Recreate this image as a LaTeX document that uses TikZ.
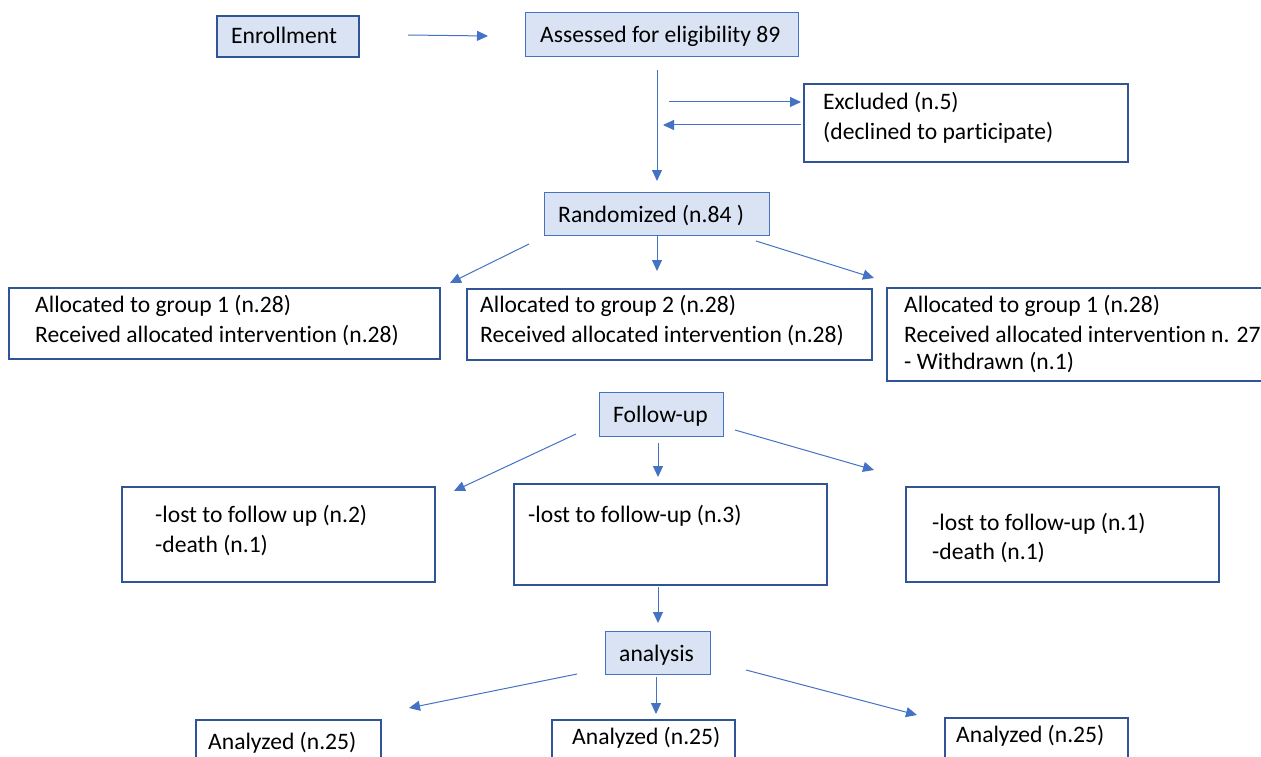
\documentclass[tikz,border=0pt]{standalone}
\usepackage{fontspec}
\setmainfont[Ligatures={NoCommon}]{Carlito}
\usetikzlibrary{arrows.meta}
\definecolor{lblue}{HTML}{DAE3F3}
\definecolor{mblue}{HTML}{4472C4}
\definecolor{dblue}{HTML}{2F5597}
\tikzset{
  lbox/.style={draw=mblue, line width=1.3pt, fill=lblue, inner sep=0pt, anchor=north west},
  dbox/.style={draw=dblue, line width=1.8pt, fill=lblue, inner sep=0pt, anchor=north west},
  wbox/.style={draw=dblue, line width=1.6pt, fill=white, inner sep=0pt, anchor=north west},
  txt/.style={anchor=base west, inner sep=0pt, font=\fontsize{23.6}{28}\selectfont},
  arr/.style={draw=mblue, line width=1pt, -{Triangle[length=11pt,width=10pt]}, mblue}
}
\begin{document}
\begin{tikzpicture}[x=1pt,y=-1pt]
\clip (0,0) rectangle (1261,757);
\fill[white] (0,0) rectangle (1261,757);
% boxes
\node[dbox, minimum width=142pt, minimum height=41pt] (enr) at (216,15) {};
\node[lbox, minimum width=273pt, minimum height=44pt] (ass) at (525,12) {};
\node[wbox, minimum width=324pt, minimum height=78pt] (exc) at (803,83) {};
\node[lbox, minimum width=225pt, minimum height=43pt] (ran) at (544,192) {};
\node[wbox, minimum width=431pt, minimum height=71pt] (g1) at (8,287) {};
\node[wbox, minimum width=405pt, minimum height=71pt] (g2) at (466,288) {};
\node[wbox, minimum width=390pt, minimum height=93pt] (g3) at (886,287) {};
\node[lbox, minimum width=124pt, minimum height=44pt] (fol) at (599,392) {};
\node[wbox, minimum width=313pt, minimum height=95pt] (l1) at (121,486) {};
\node[wbox, minimum width=313pt, minimum height=101pt] (l2) at (513,483) {};
\node[wbox, minimum width=313pt, minimum height=95pt] (l3) at (905,486) {};
\node[lbox, minimum width=105pt, minimum height=43pt] (ana) at (605,631) {};
\node[wbox, minimum width=185pt, minimum height=60pt] (a1) at (195,719) {};
\node[wbox, minimum width=183pt, minimum height=60pt] (a2) at (551,719) {};
\node[wbox, minimum width=183pt, minimum height=60pt] (a3) at (944,717) {};
% texts
\node[txt] (tenr) at (231,44) {Enrollment};
\node[txt] (tass) at (540,43) {Assessed for eligibility 89};
\node[txt] (texc1) at (823,110) {Excluded (n.5)};
\node[txt] (texc2) at (823,140) {(declined to participate)};
\node[txt] (tran) at (558,222) {Randomized (n.84 )};
\node[txt] (tg1a) at (35,312) {Allocated to group 1 (n.28)};
\node[txt] (tg1b) at (35,342) {Received allocated intervention (n.28)};
\node[txt] (tg2a) at (480,312) {Allocated to group 2 (n.28)};
\node[txt] (tg2b) at (480,342) {Received allocated intervention (n.28)};
\node[txt] (tg3a) at (904,312) {Allocated to group 1 (n.28)};
\node[txt] (tg3b) at (904,342) {Received allocated intervention n. 27};
\node[txt] (tg3c) at (904,369) {- Withdrawn (n.1)};
\node[txt] (tfol) at (613,422) {Follow-up};
\node[txt] (tl1a) at (155,522) {-lost to follow up (n.2)};
\node[txt] (tl1b) at (155,552) {-death (n.1)};
\node[txt] (tl2a) at (528,522) {-lost to follow-up (n.3)};
\node[txt] (tl3a) at (932,530) {-lost to follow-up (n.1)};
\node[txt] (tl3b) at (932,559) {-death (n.1)};
\node[txt] (tana) at (619,661) {analysis};
\node[txt] (ta1) at (208,749) {Analyzed (n.25)};
\node[txt] (ta2) at (572,744) {Analyzed (n.25)};
\node[txt] (ta3) at (956,742) {Analyzed (n.25)};
% arrow end points
\coordinate (e1) at (408,35); \coordinate (e2) at (488,36);
\coordinate (v1) at (657,70); \coordinate (v2) at (657,181);
\coordinate (x1) at (669,102); \coordinate (x2) at (801,102);
\coordinate (y1) at (801,125); \coordinate (y2) at (663,125);
\coordinate (r1s) at (529,244); \coordinate (r1e) at (450,283);
\coordinate (r2s) at (657,236); \coordinate (r2e) at (657,271);
\coordinate (r3s) at (756,241); \coordinate (r3e) at (874,278);
\coordinate (f1s) at (576,434); \coordinate (f1e) at (454,491);
\coordinate (f2s) at (658,443); \coordinate (f2e) at (658,477);
\coordinate (f3s) at (735,430); \coordinate (f3e) at (874,470);
\coordinate (d1s) at (658,587); \coordinate (d1e) at (658,623);
\coordinate (n1s) at (577,674); \coordinate (n1e) at (409,708);
\coordinate (n2s) at (656,677); \coordinate (n2e) at (656,714);
\coordinate (n3s) at (746,670); \coordinate (n3e) at (917,715);
% connectors
\draw[arr] (e1) -- (e2);
\draw[arr] (v1) -- (v2);
\draw[arr] (x1) -- (x2);
\draw[arr] (y1) -- (y2);
\draw[arr] (r1s) -- (r1e);
\draw[arr] (r2s) -- (r2e);
\draw[arr] (r3s) -- (r3e);
\draw[arr] (f1s) -- (f1e);
\draw[arr] (f2s) -- (f2e);
\draw[arr] (f3s) -- (f3e);
\draw[arr] (d1s) -- (d1e);
\draw[arr] (n1s) -- (n1e);
\draw[arr] (n2s) -- (n2e);
\draw[arr] (n3s) -- (n3e);
\end{tikzpicture}
\end{document}
